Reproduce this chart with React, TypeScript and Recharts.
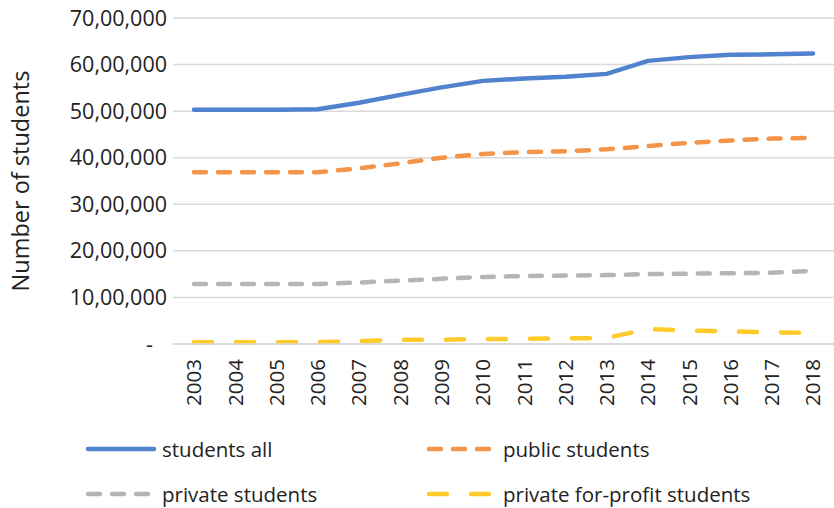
import React from 'react';
import { LineChart, Line, XAxis, YAxis, CartesianGrid, Legend } from 'recharts';

const years = ['2003','2004','2005','2006','2007','2008','2009','2010','2011','2012','2013','2014','2015','2016','2017','2018'];
const studentsAll = [5030000,5030000,5030000,5040000,5180000,5350000,5510000,5650000,5700000,5740000,5800000,6080000,6160000,6210000,6220000,6240000];
const publicStudents = [3690000,3690000,3690000,3690000,3770000,3880000,4000000,4080000,4120000,4140000,4180000,4250000,4320000,4370000,4410000,4430000];
const privateStudents = [1290000,1290000,1290000,1290000,1320000,1360000,1400000,1440000,1460000,1470000,1480000,1500000,1510000,1520000,1530000,1570000];
const forProfitStudents = [40000,40000,40000,40000,60000,90000,90000,110000,110000,120000,130000,320000,290000,270000,250000,240000];
const yTicks = [0,1000000,2000000,3000000,4000000,5000000,6000000,7000000];

const data = years.map((y, i) => ({
  year: y,
  all: studentsAll[i],
  pub: publicStudents[i],
  priv: privateStudents[i],
  fp: forProfitStudents[i],
}));

const FONT = '"Open Sans", sans-serif';
const FS = 20.5;
const C_BLUE = '#5082cd';
const C_ORANGE = '#f39449';
const C_GRAY = '#b5b5b5';
const C_YELLOW = '#ffca2a';

const fmtIndian = (v: number) => {
  if (v === 0) return '-';
  const s = String(Math.round(v));
  const last3 = s.slice(-3);
  let rest = s.slice(0, -3);
  const parts: string[] = [];
  while (rest.length > 2) {
    parts.unshift(rest.slice(-2));
    rest = rest.slice(0, -2);
  }
  if (rest) parts.unshift(rest);
  return parts.join(',') + ',' + last3;
};

const YTick = (props: any) => {
  const { x, y, payload } = props;
  const v = payload.value;
  const label = fmtIndian(v);
  return (
    <text x={v === 0 ? x - 14 : x} y={y} dy="0.35em" textAnchor="end" fontFamily={FONT} fontSize={21.5} fill="#222">
      {label}
    </text>
  );
};

const XTick = (props: any) => {
  const { x, payload } = props;
  return (
    <g transform={`translate(${x},${359}) rotate(-90)`}>
      <text x={0} y={0} dy="0.36em" textAnchor="end" fontFamily={FONT} fontSize={FS} fill="#222">
        {payload.value}
      </text>
    </g>
  );
};

const legendItems = [
  { label: 'students all', color: C_BLUE, dash: undefined as string | undefined, left: 84, top: 31 },
  { label: 'public students', color: C_ORANGE, dash: '12 12', left: 425, top: 31 },
  { label: 'private students', color: C_GRAY, dash: '12 12', left: 84, top: 76 },
  { label: 'private for-profit students', color: C_YELLOW, dash: '18 24', left: 425, top: 76 },
];

const LegendContent = () => (
  <div style={{ position: 'relative', width: 834, height: 90 }}>
    {legendItems.map((it) => (
      <div key={it.label} style={{ position: 'absolute', left: it.left, top: it.top - 15, height: 30, display: 'flex', alignItems: 'center' }}>
        <svg width={74} height={10} style={{ display: 'block' }}>
          <line x1={4} y1={5} x2={it.dash === '18 24' ? 66 : 70} y2={5} stroke={it.color} strokeWidth={4.5} strokeLinecap="round" strokeDasharray={it.dash} />
        </svg>
        <span style={{ fontFamily: FONT, fontSize: FS, color: '#222', marginLeft: 4 }}>{it.label}</span>
      </div>
    ))}
  </div>
);

export default function App() {
  return (
    <div style={{ position: 'absolute', left: 0, top: 0, width: 834, height: 508, background: '#fff' }}>
      <LineChart width={834} height={508} data={data} margin={{ top: 18, right: 0, bottom: 0, left: 0 }}>
        <CartesianGrid vertical={false} stroke="#d9d9d9" strokeWidth={1.5} />
        <XAxis dataKey="year" height={74} tickLine={false} axisLine={{ stroke: '#d9d9d9', strokeWidth: 1.5 }} tick={<XTick />} interval={0} padding={{ left: 21, right: 21 }} />
        <YAxis
          width={173}
          domain={[0, 7000000]}
          ticks={yTicks}
          tickLine={false}
          axisLine={false}
          tick={<YTick />}
          tickMargin={0}
          label={{ value: 'Number of students', angle: -90, position: 'insideLeft', dx: 16, style: { fontFamily: FONT, fontSize: 23.5, fill: '#222', textAnchor: 'middle' } }}
        />
        <Legend verticalAlign="bottom" content={<LegendContent />} wrapperStyle={{ left: 0, width: 834, height: 90 }} />
        <Line dataKey="all" stroke={C_BLUE} strokeWidth={4.5} dot={false} isAnimationActive={false} strokeLinecap="round" />
        <Line dataKey="pub" stroke={C_ORANGE} strokeWidth={4.5} dot={false} isAnimationActive={false} strokeDasharray="12 12" strokeLinecap="round" />
        <Line dataKey="priv" stroke={C_GRAY} strokeWidth={4.5} dot={false} isAnimationActive={false} strokeDasharray="12 12" strokeLinecap="round" />
        <Line dataKey="fp" stroke={C_YELLOW} strokeWidth={4.5} dot={false} isAnimationActive={false} strokeDasharray="18 24" strokeLinecap="round" />
      </LineChart>
    </div>
  );
}
